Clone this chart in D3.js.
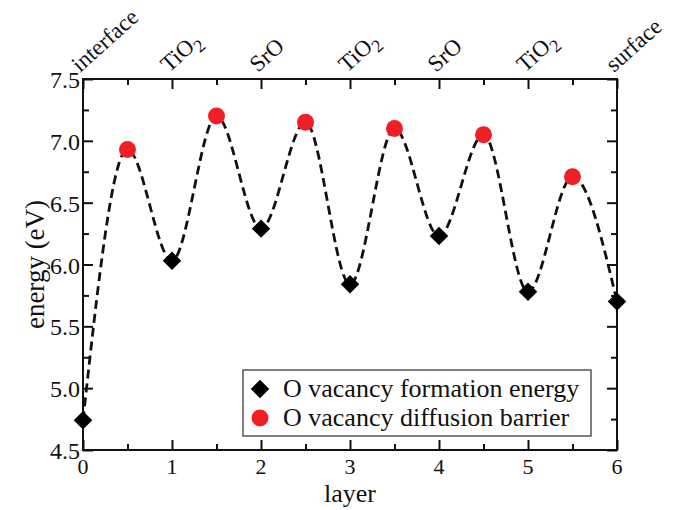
<!DOCTYPE html>
<html>
<head>
<meta charset="utf-8">
<script src="https://cdn.jsdelivr.net/npm/d3@7"></script>
<style>
  body { margin: 0; background: #fff; }
  text { font-family: "Liberation Serif", "Times New Roman", serif; fill: #111; }
</style>
</head>
<body>
<script>
// layer positions and energies
const formationLayers = [0, 1, 2, 3, 4, 5, 6];
const formationEnergy = [4.74, 6.03, 6.29, 5.84, 6.23, 5.78, 5.70];
const barrierLayers = [0.5, 1.5, 2.5, 3.5, 4.5, 5.5];
const barrierEnergy = [6.93, 7.20, 7.15, 7.10, 7.05, 6.71];
const topLabels = [
    ["interface", ""], ["TiO", "2"], ["SrO", ""], ["TiO", "2"],
    ["SrO", ""], ["TiO", "2"], ["surface", ""]
];
const xTicks = [0, 1, 2, 3, 4, 5, 6];
const yTicks = [4.5, 5.0, 5.5, 6.0, 6.5, 7.0, 7.5];
const legendLabels = ["O vacancy formation energy", "O vacancy diffusion barrier"];

(function() {
    const W = 685, H = 510;
    const pLeft = 83, pRight = 617, pTop = 79, pBottom = 450;

    const svg = d3.select('body').append('svg')
        .attr('width', W)
        .attr('height', H);

    const x = d3.scaleLinear().domain([0, 6]).range([pLeft, pRight]);
    const y = d3.scaleLinear().domain([4.5, 7.5]).range([pBottom, pTop]);

    // frame with inward ticks on all four sides
    function tickAxis(axis, pos, major, minor) {
        const g = svg.append('g').attr('transform', pos);
        g.call(axis.tickValues(minor).tickSize(-6).tickFormat(''));
        g.append('g').call(axis.tickValues(major).tickSize(-10).tickFormat(''));
        g.selectAll('.domain').remove();
        g.selectAll('line').attr('stroke', '#111').attr('stroke-width', 2);
        return g;
    }
    const xMinor = d3.range(0.5, 6, 1);
    const yMinor = d3.range(4.75, 7.5, 0.5);
    tickAxis(d3.axisBottom(x), `translate(0,${pBottom})`, xTicks, xMinor);
    tickAxis(d3.axisTop(x), `translate(0,${pTop})`, xTicks, xMinor);
    tickAxis(d3.axisLeft(y), `translate(${pLeft},0)`, yTicks, yMinor);
    tickAxis(d3.axisRight(y), `translate(${pRight},0)`, yTicks, yMinor);

    svg.append('rect')
        .attr('x', pLeft).attr('y', pTop)
        .attr('width', pRight - pLeft).attr('height', pBottom - pTop)
        .attr('fill', 'none').attr('stroke', '#111').attr('stroke-width', 2);

    // tick labels
    svg.selectAll('.xlab').data(xTicks).enter().append('text')
        .attr('x', d => x(d))
        .attr('y', pBottom + 24)
        .attr('text-anchor', 'middle')
        .style('font-size', '22px')
        .text(d => d);
    svg.selectAll('.ylab').data(yTicks).enter().append('text')
        .attr('x', pLeft - 3)
        .attr('y', d => y(d) + 9)
        .attr('text-anchor', 'end')
        .style('font-size', '24px')
        .text(d => d.toFixed(1));

    // rotated layer names along the top
    const tl = svg.selectAll('.toplab').data(topLabels).enter().append('text')
        .attr('transform', (d, i) => `translate(${x(i) - 3},${pTop - 6}) rotate(-42)`)
        .style('font-size', '23px');
    tl.append('tspan').text(d => d[0]);
    tl.append('tspan').attr('dy', 6).style('font-size', '18px').text(d => d[1]);

    // axis titles
    svg.append('text')
        .attr('x', (pLeft + pRight) / 2)
        .attr('y', 502)
        .attr('text-anchor', 'middle')
        .style('font-size', '26px')
        .text('layer');
    svg.append('text')
        .attr('transform', `translate(44,${(pTop + pBottom) / 2}) rotate(-90)`)
        .attr('text-anchor', 'middle')
        .style('font-size', '27px')
        .text('energy (eV)');

    // dashed smooth curve through all points in layer order
    const allPts = formationLayers.map((l, i) => [l, formationEnergy[i]])
        .concat(barrierLayers.map((l, i) => [l, barrierEnergy[i]]))
        .sort((a, b) => a[0] - b[0]);
    const line = d3.line()
        .x(d => x(d[0]))
        .y(d => y(d[1]))
        .curve(d3.curveMonotoneX);
    svg.append('path')
        .attr('d', line(allPts))
        .attr('fill', 'none')
        .attr('stroke', '#111')
        .attr('stroke-width', 2.8)
        .attr('stroke-dasharray', '9,5');

    const diamond = d3.symbol().type(d3.symbolSquare).size(170);
    svg.selectAll('.fe').data(formationLayers).enter().append('path')
        .attr('d', diamond)
        .attr('transform', (d, i) => `translate(${x(d)},${y(formationEnergy[i])}) rotate(45)`)
        .attr('fill', '#000');
    svg.selectAll('.db').data(barrierLayers).enter().append('circle')
        .attr('cx', d => x(d))
        .attr('cy', (d, i) => y(barrierEnergy[i]))
        .attr('r', 8.5)
        .attr('fill', '#ee2026');

    // legend
    const lg = svg.append('g');
    lg.append('rect')
        .attr('x', 243).attr('y', 370)
        .attr('width', 348).attr('height', 66)
        .attr('fill', '#fff').attr('stroke', '#555').attr('stroke-width', 1.5);
    lg.append('path')
        .attr('d', diamond)
        .attr('transform', 'translate(260,389) rotate(45)')
        .attr('fill', '#000');
    lg.append('circle')
        .attr('cx', 260).attr('cy', 418).attr('r', 8.5)
        .attr('fill', '#ee2026');
    lg.selectAll('.lt').data(legendLabels).enter().append('text')
        .attr('x', 283)
        .attr('y', (d, i) => 397 + i * 29)
        .style('font-size', '26px')
        .text(d => d);
})();
</script>
</body>
</html>
